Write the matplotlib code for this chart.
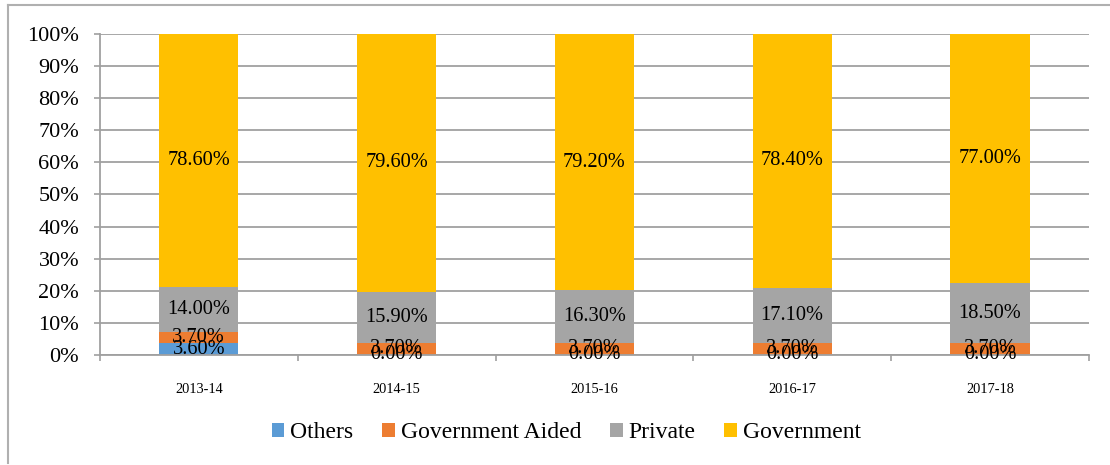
import numpy as np
import matplotlib.pyplot as plt
from matplotlib.lines import Line2D

years = ['2013-14', '2014-15', '2015-16', '2016-17', '2017-18']
others = [3.6, 0.0, 0.0, 0.0, 0.0]
govt_aided = [3.7, 3.7, 3.7, 3.7, 3.7]
private = [14.0, 15.9, 16.3, 17.1, 18.5]
government = [78.6, 79.6, 79.2, 78.4, 77.0]

series = [('Others', others, '#5B9BD5'),
          ('Government Aided', govt_aided, '#ED7D31'),
          ('Private', private, '#A5A5A5'),
          ('Government', government, '#FFC000')]

plt.rcParams['font.family'] = ['Liberation Serif', 'DejaVu Serif']

fig = plt.figure(figsize=(11.1, 4.65), dpi=100)
ax = fig.add_axes([0.090, 0.2366, 0.891, 0.6903])

x = np.arange(len(years))
totals = np.sum([s[1] for s in series], axis=0)
bottom = np.zeros(len(years))
for name, vals, col in series:
    share = np.array(vals) / totals
    ax.bar(x, share, 0.4, bottom=bottom, color=col, label=name, zorder=2)
    for xi, b, h, v in zip(x, bottom, share, vals):
        ax.text(xi, b + h / 2, f'{v:.2f}%', ha='center', va='center',
                fontsize=14.7, zorder=4)
    bottom += share

ax.set_ylim(0, 1)
ax.set_xlim(-0.5, len(years) - 0.5)
ax.set_yticks(np.arange(0, 1.01, 0.1))
ax.set_yticklabels([f'{int(round(t * 100))}%' for t in np.arange(0, 1.01, 0.1)],
                   fontsize=16)
ax.set_xticks(x)
ax.set_xticklabels(years, fontsize=10.4)
ax.set_xticks(np.arange(-0.5, len(years)), minor=True)
ax.tick_params(axis='x', which='major', length=0, pad=20)
ax.tick_params(axis='x', which='minor', length=4, color='#A0A0A0', width=1.2,
               direction='out')
ax.tick_params(axis='y', length=4, color='#A0A0A0', width=1.2, pad=11)
ax.yaxis.grid(True, color='#A0A0A0', linewidth=1.3, zorder=0)
for side in ['top', 'right']:
    ax.spines[side].set_visible(False)
for side in ['left', 'bottom']:
    ax.spines[side].set_color('#A0A0A0')
    ax.spines[side].set_linewidth(1.3)

handles, labels = ax.get_legend_handles_labels()
fig.legend(handles, labels, loc='center', bbox_to_anchor=(0.51, 0.069),
           ncol=4, frameon=False, fontsize=17, handlelength=0.55,
           handleheight=0.55, handletextpad=0.25, columnspacing=1.2)

# outer chart border (left and top edges)
fig.add_artist(Line2D([8 / 1110, 8 / 1110], [2 / 465, 460 / 465],
                      transform=fig.transFigure, color='#B0B0B0', linewidth=1.5))
fig.add_artist(Line2D([8 / 1110, 1.0], [460 / 465, 460 / 465],
                      transform=fig.transFigure, color='#B0B0B0', linewidth=1.5))

fig.savefig('out.png', dpi=100)
